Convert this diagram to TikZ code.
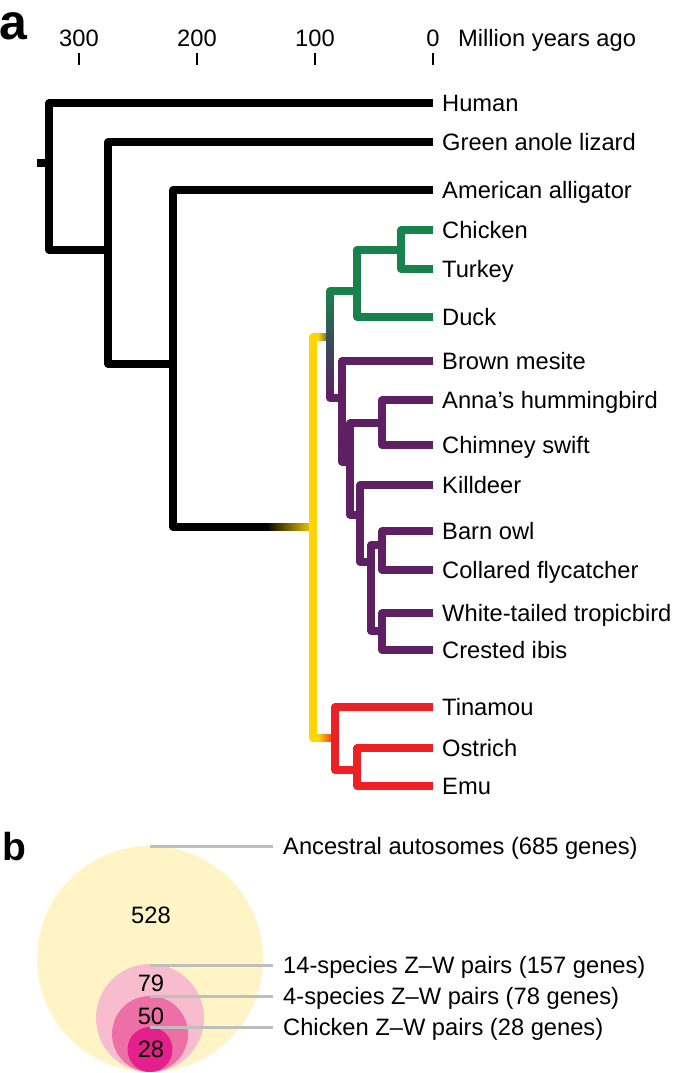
\documentclass[tikz,border=0pt]{standalone}
\usepackage{fontspec}
\setmainfont{Liberation Sans}
\definecolor{cgreen}{HTML}{17834A}
\definecolor{cpurple}{HTML}{5E1F63}
\definecolor{cslate}{HTML}{3A4A5C}
\definecolor{cyellow}{HTML}{FFD500}
\definecolor{cred}{HTML}{ED2024}
\definecolor{corange}{HTML}{F39020}
\definecolor{cstub}{HTML}{4A5048}
\definecolor{circA}{HTML}{FEF4C6}
\definecolor{circB}{HTML}{F7BDCF}
\definecolor{circC}{HTML}{EC6FA6}
\definecolor{circD}{HTML}{E4208A}
\definecolor{leadgray}{HTML}{BEBEBE}
\begin{document}
\begin{tikzpicture}[x=1pt,y=-1pt,line join=round,
  br/.style={line width=7.2pt},
  kbr/.style={br,draw=black},
  gbr/.style={br,draw=cgreen},
  pbr/.style={br,draw=cpurple},
  ybr/.style={br,draw=cyellow},
  rbr/.style={br,draw=cred},
  lab/.style={anchor=base west,inner sep=0pt,font=\fontsize{23.7}{28}\selectfont},
  axlab/.style={anchor=base,inner sep=0pt,font=\fontsize{23.7}{28}\selectfont},
  tickln/.style={line width=2.2pt},
  lead/.style={line width=3pt,draw=leadgray},
  panel/.style={anchor=base west,inner sep=0pt,font=\bfseries}]
\useasboundingbox (0,0) rectangle (675,1073);
% panel labels
\node[panel,font=\bfseries\fontsize{50}{50}\selectfont] (pa) at (-1,40) {a};
\node[panel,font=\bfseries\fontsize{39}{39}\selectfont] (pb) at (2,860) {b};
% axis
\foreach \x/\t in {79/300,197/200,315/100,433/0}{
  \node[axlab] (ax\t) at (\x,47) {\t};
  \draw[tickln] (\x,53) -- (\x,65);
}
\node[lab] (myago) at (458,47) {Million years ago};
% leaves
\newcommand{\leaf}[3]{\coordinate (#1) at (433,#2); \node[lab] (#1-l) at (442,#2+8.5) {#3};}
\leaf{human}{103}{Human}
\leaf{anole}{142}{Green anole lizard}
\leaf{gator}{190}{American alligator}
\leaf{chicken}{230}{Chicken}
\leaf{turkey}{269}{Turkey}
\leaf{duck}{317}{Duck}
\leaf{mesite}{361}{Brown mesite}
\leaf{anna}{400}{Anna’s hummingbird}
\leaf{swift}{445}{Chimney swift}
\leaf{killdeer}{485}{Killdeer}
\leaf{owl}{531}{Barn owl}
\leaf{fly}{570}{Collared flycatcher}
\leaf{tropic}{613}{White-tailed tropicbird}
\leaf{ibis}{650}{Crested ibis}
\leaf{tinamou}{707}{Tinamou}
\leaf{ostrich}{748}{Ostrich}
\leaf{emu}{786}{Emu}
% internal nodes
\coordinate (n1) at (49,250);
\coordinate (n2) at (108,364);
\coordinate (n3) at (173,527);
\coordinate (bird) at (313,527);
\coordinate (neog) at (330,337);
\coordinate (gall) at (357,291);
\coordinate (ct) at (401,250);
\coordinate (neoa) at (342,398);
\coordinate (ac) at (382,423);
\coordinate (v2) at (350,462);
\coordinate (v3) at (360,515);
\coordinate (v4) at (371,562);
\coordinate (bc) at (382,545);
\coordinate (wc) at (382,631);
\coordinate (pal) at (335,738);
\coordinate (oe) at (357,770);
% black
\draw[kbr] (37,163) -- (49,163);
\draw[kbr] (human) -- (49,103) -- (49,250) -- (n2 |- n1);
\draw[kbr] (anole) -- (108,142) -- (n2) -- (n3 |- n2);
\draw[kbr] (gator) -- (173,190) -- (n3) -- (267,527);
\shade[left color=black,right color=cyellow] (266,523.4) rectangle (314,530.6);
% yellow stem
\draw[ybr] (320,337) -- (313,337) -- (313,738) -- (320,738);
\shade[left color=cyellow,right color=cstub] (318,333.4) rectangle (330,340.6);
\shade[left color=cyellow,middle color=corange,right color=cred] (318,734.4) rectangle (335,741.6);
% green
\draw[gbr] (chicken) -- (401,230) -- (401,269) -- (turkey);
\draw[gbr] (ct) -- (357,250) -- (357,317) -- (duck);
\draw[gbr] (gall) -- (330,291) -- (330,296);
\shade[top color=cgreen,bottom color=cpurple,middle color=cslate] (326.4,291) rectangle (333.6,398);
% purple
\draw[pbr] (330,392) -- (330,398) -- (neoa);
\draw[pbr] (mesite) -- (342,361) -- (342,462) -- (v2);
\draw[pbr] (anna) -- (382,400) -- (382,445) -- (swift);
\draw[pbr] (ac) -- (350,423) -- (350,515) -- (v3);
\draw[pbr] (killdeer) -- (360,485) -- (360,562) -- (v4);
\draw[pbr] (owl) -- (382,531) -- (382,570) -- (fly);
\draw[pbr] (tropic) -- (382,613) -- (382,650) -- (ibis);
\draw[pbr] (bc) -- (371,545) -- (371,631) -- (wc);
% red
\draw[rbr] (tinamou) -- (335,707) -- (335,770) -- (oe);
\draw[rbr] (ostrich) -- (357,748) -- (357,786) -- (emu);
% panel b
\fill[circA] (150,959) circle (113pt);
\fill[circB] (150,1018) circle (54pt);
\fill[circC] (150,1034) circle (38pt);
\fill[circD] (150,1049.5) circle (22.5pt);
\node[axlab] (nA) at (151,923.5) {528};
\node[axlab] (nB) at (151,991.5) {79};
\node[axlab] (nC) at (151,1024) {50};
\node[axlab] (nD) at (151,1057.5) {28};
\coordinate (tA) at (150,846);
\coordinate (tB) at (150,965);
\coordinate (tC) at (150,996);
\coordinate (tD) at (150,1027);
\node[lab] (lA) at (283,846+8.5) {Ancestral autosomes (685 genes)};
\node[lab] (lB) at (283,965+8.5) {14-species Z–W pairs (157 genes)};
\node[lab] (lC) at (283,996+8.5) {4-species Z–W pairs (78 genes)};
\node[lab] (lD) at (283,1027+8.5) {Chicken Z–W pairs (28 genes)};
\draw[lead] (tA) -- (tA -| 273,0);
\draw[lead] (tB) -- (tB -| 273,0);
\draw[lead] (tC) -- (tC -| 273,0);
\draw[lead] (tD) -- (tD -| 273,0);
\end{tikzpicture}
\end{document}
